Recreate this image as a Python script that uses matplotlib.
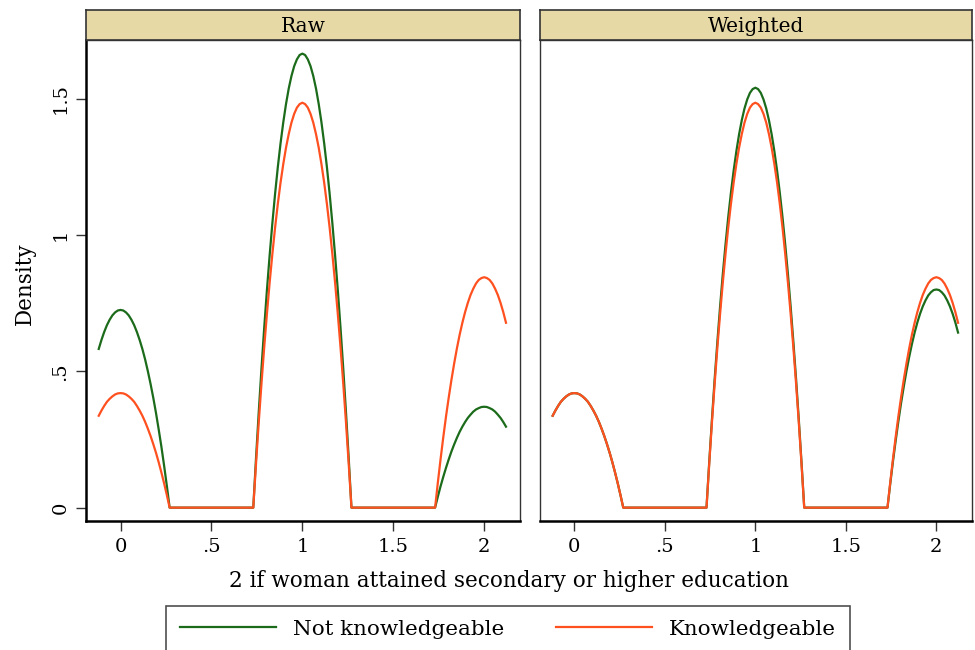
import matplotlib
matplotlib.use("Agg")
import matplotlib.pyplot as plt

plt.rcParams['font.family'] = ['DejaVu Serif']

panels = ["Raw", "Weighted"]
series_names = ["Not knowledgeable", "Knowledgeable"]
colors = ["#1b6b1b", "#ff5020"]

x = [-0.120, -0.105, -0.090, -0.075, -0.060, -0.045, -0.030, -0.015, 0.000, 0.015, 0.030, 0.045,
     0.060, 0.075, 0.090, 0.105, 0.120, 0.135, 0.150, 0.165, 0.180, 0.195, 0.210, 0.225, 0.240,
     0.255, 0.270,
     0.730, 0.745, 0.760, 0.775, 0.790, 0.805, 0.820, 0.835, 0.850, 0.865, 0.880, 0.895, 0.910,
     0.925, 0.940, 0.955, 0.970, 0.985, 1.000, 1.015, 1.030, 1.045, 1.060, 1.075, 1.090, 1.105,
     1.120, 1.135, 1.150, 1.165, 1.180, 1.195, 1.210, 1.225, 1.240, 1.255, 1.270,
     1.730, 1.745, 1.760, 1.775, 1.790, 1.805, 1.820, 1.835, 1.850, 1.865, 1.880, 1.895, 1.910,
     1.925, 1.940, 1.955, 1.970, 1.985, 2.000, 2.015, 2.030, 2.045, 2.060, 2.075, 2.090, 2.105,
     2.120]

raw_not = [0.582, 0.615, 0.644, 0.669, 0.689, 0.705, 0.716, 0.723, 0.725, 0.723, 0.716, 0.705,
           0.689, 0.669, 0.644, 0.615, 0.582, 0.544, 0.501, 0.454, 0.403, 0.347, 0.286, 0.222, 0.152,
           0.078, 0.0,
           0.0, 0.180, 0.349, 0.509, 0.658, 0.797, 0.925, 1.043, 1.151, 1.249, 1.336, 1.413, 1.480,
           1.537, 1.583, 1.619, 1.644, 1.660, 1.665, 1.660, 1.644, 1.619, 1.583, 1.537, 1.480, 1.413,
           1.336, 1.249, 1.151, 1.043, 0.925, 0.797, 0.658, 0.509, 0.349, 0.180, 0.0,
           0.0, 0.040, 0.078, 0.113, 0.146, 0.177, 0.206, 0.232, 0.256, 0.278, 0.297, 0.314, 0.329,
           0.341, 0.352, 0.360, 0.365, 0.369, 0.370, 0.369, 0.365, 0.360, 0.352, 0.341, 0.329, 0.314,
           0.297]

raw_know = [0.337, 0.356, 0.373, 0.388, 0.399, 0.408, 0.415, 0.419, 0.420, 0.419, 0.415, 0.408,
            0.399, 0.388, 0.373, 0.356, 0.337, 0.315, 0.290, 0.263, 0.233, 0.201, 0.166, 0.128, 0.088,
            0.045, 0.0,
            0.0, 0.160, 0.312, 0.454, 0.587, 0.710, 0.825, 0.930, 1.027, 1.114, 1.192, 1.260, 1.320,
            1.370, 1.412, 1.444, 1.467, 1.480, 1.485, 1.480, 1.467, 1.444, 1.412, 1.370, 1.320, 1.260,
            1.192, 1.114, 1.027, 0.930, 0.825, 0.710, 0.587, 0.454, 0.312, 0.160, 0.0,
            0.0, 0.091, 0.177, 0.258, 0.334, 0.404, 0.469, 0.529, 0.584, 0.634, 0.678, 0.717, 0.751,
            0.780, 0.803, 0.822, 0.835, 0.842, 0.845, 0.842, 0.835, 0.822, 0.803, 0.780, 0.751, 0.717,
            0.678]

wt_not = [0.337, 0.356, 0.373, 0.388, 0.399, 0.408, 0.415, 0.419, 0.420, 0.419, 0.415, 0.408,
          0.399, 0.388, 0.373, 0.356, 0.337, 0.315, 0.290, 0.263, 0.233, 0.201, 0.166, 0.128, 0.088,
          0.045, 0.0,
          0.0, 0.166, 0.323, 0.471, 0.608, 0.737, 0.856, 0.965, 1.065, 1.155, 1.236, 1.307, 1.369,
          1.421, 1.464, 1.497, 1.521, 1.535, 1.540, 1.535, 1.521, 1.497, 1.464, 1.421, 1.369, 1.307,
          1.236, 1.155, 1.065, 0.965, 0.856, 0.737, 0.608, 0.471, 0.323, 0.166, 0.0,
          0.0, 0.086, 0.168, 0.244, 0.316, 0.383, 0.444, 0.501, 0.553, 0.600, 0.642, 0.679, 0.711,
          0.738, 0.760, 0.778, 0.790, 0.798, 0.800, 0.798, 0.790, 0.778, 0.760, 0.738, 0.711, 0.679,
          0.642]

wt_know = raw_know

data = {"Raw": (raw_not, raw_know), "Weighted": (wt_not, wt_know)}

xticks = [0, 0.5, 1, 1.5, 2]
xticklabels = ["0", ".5", "1", "1.5", "2"]
yticks = [0, 0.5, 1, 1.5]
yticklabels = ["0", ".5", "1", "1.5"]

W, H = 975, 650
fig = plt.figure(figsize=(W / 100, H / 100), dpi=100)

boxes = [(86, 40, 520, 521), (540, 40, 972, 521)]
strip_top = 9.5
strip_fill = "#e6d9a6"

axes = []
for i, (pname, (l, t, r, b)) in enumerate(zip(panels, boxes)):
    ax = fig.add_axes([l / W, 1 - b / H, (r - l) / W, (b - t) / H])
    axes.append(ax)
    for s, c, name in zip(data[pname], colors, series_names):
        ax.plot(x, s, color=c, lw=1.6, label=name, solid_joinstyle='round')
    ax.set_xlim(-0.19, 2.197)
    ax.set_ylim(-0.049, 1.715)
    ax.set_xticks(xticks)
    ax.set_xticklabels(xticklabels, fontsize=14)
    ax.set_yticks(yticks)
    if i == 0:
        ax.set_yticklabels(yticklabels, fontsize=14, rotation=90, va='center')
    else:
        ax.tick_params(axis='y', left=False, labelleft=False)
    ax.tick_params(axis='both', direction='out', length=7, width=1.0, color='#333333', pad=5)
    for sp in ax.spines.values():
        sp.set_linewidth(1.0)
        sp.set_color('#333333')
    ax.spines['bottom'].set_linewidth(1.8)
    ax.spines['bottom'].set_color('black')
    ax.spines['left'].set_linewidth(1.8 if i == 0 else 1.0)
    ax.spines['left'].set_color('black' if i == 0 else '#333333')
    sx = fig.add_axes([l / W, 1 - t / H, (r - l) / W, (t - strip_top) / H])
    sx.set_xticks([]); sx.set_yticks([])
    sx.set_facecolor(strip_fill)
    for sp in sx.spines.values():
        sp.set_linewidth(1.2)
        sp.set_color('#333333')
    sx.text(0.5, 0.45, pname, ha='center', va='center', fontsize=14.5, transform=sx.transAxes)

fig.text(25 / W, 1 - 284 / H, "Density", rotation=90, ha='center', va='center', fontsize=15.5)
fig.text(509 / W, 1 - 581 / H, "2 if woman attained secondary or higher education",
         ha='center', va='center', fontsize=15.5)

handles, labels = axes[0].get_legend_handles_labels()
leg = fig.legend(handles, labels, loc='upper center', bbox_to_anchor=(508 / W, 1 - 606 / H),
                 ncol=2, frameon=True, fancybox=False, fontsize=15.4, handlelength=4.5,
                 columnspacing=2.4, handletextpad=0.8, borderpad=0.65, borderaxespad=0)
leg.get_frame().set_edgecolor('#222222')
leg.get_frame().set_linewidth(1.2)

fig.savefig("out.png", dpi=100)
